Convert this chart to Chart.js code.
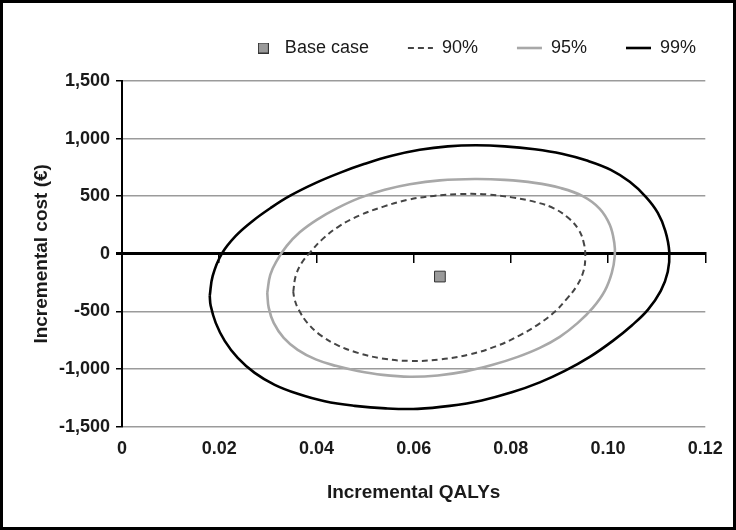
<!DOCTYPE html>
<html>
<head>
<meta charset="utf-8">
<script src="https://cdn.jsdelivr.net/npm/chart.js@4/dist/chart.umd.min.js"></script>
<style>
html,body{margin:0;padding:0;background:#fff;}
#wrap{width:736px;height:530px;position:relative;}
</style>
</head>
<body>
<div id="wrap"><canvas id="c"></canvas></div>
<script>
// ---- Data ----
const seriesNames = ['Base case', '90%', '95%', '99%'];

const xTickValues = [0, 0.02, 0.04, 0.06, 0.08, 0.10, 0.12];
const xTickLabels = ['0', '0.02', '0.04', '0.06', '0.08', '0.10', '0.12'];
const yTickValues = [-1500, -1000, -500, 0, 500, 1000, 1500];
const yTickLabels = ['-1,500', '-1,000', '-500', '0', '500', '1,000', '1,500'];

const baseCaseX = [0.0654];
const baseCaseY = [-197];

const ci90X = [0.03523, 0.03574, 0.03698, 0.03862, 0.04130, 0.04479, 0.04891, 0.05364, 0.05879, 0.06414, 0.06949, 0.07504, 0.08019, 0.08492, 0.08883, 0.09191, 0.09397, 0.09500, 0.09531, 0.09490, 0.09356, 0.09150, 0.08903, 0.08595, 0.08183, 0.07689, 0.07154, 0.06558, 0.05920, 0.05344, 0.04850, 0.04438, 0.04088, 0.03821, 0.03636, 0.03553, 0.03523];
const ci90Y = [-330, -191, -78, 9, 130, 243, 334, 408, 469, 503, 519, 516, 490, 451, 395, 308, 208, 95, -26, -156, -278, -391, -503, -603, -707, -803, -872, -916, -929, -907, -859, -794, -707, -603, -486, -399, -330];

const ci95X = [0.02988, 0.03050, 0.03183, 0.03389, 0.03656, 0.04006, 0.04418, 0.04891, 0.05405, 0.05920, 0.06537, 0.07257, 0.07874, 0.08492, 0.09006, 0.09479, 0.09829, 0.10035, 0.10128, 0.10138, 0.10076, 0.09932, 0.09685, 0.09377, 0.09006, 0.08595, 0.08142, 0.07628, 0.07072, 0.06496, 0.05920, 0.05364, 0.04850, 0.04397, 0.03986, 0.03615, 0.03327, 0.03121, 0.03019, 0.02988];
const ci95Y = [-339, -182, -61, 69, 187, 295, 395, 486, 556, 604, 638, 650, 642, 616, 573, 501, 391, 252, 95, -17, -165, -321, -469, -599, -720, -816, -894, -963, -1020, -1055, -1066, -1050, -1016, -972, -916, -833, -729, -599, -469, -339];

const ci99X = [0.01805, 0.01866, 0.02051, 0.02340, 0.02689, 0.03060, 0.03451, 0.03965, 0.04479, 0.04994, 0.05549, 0.06126, 0.06702, 0.07278, 0.07874, 0.08492, 0.09047, 0.09582, 0.10056, 0.10446, 0.10776, 0.11023, 0.11177, 0.11259, 0.11228, 0.11084, 0.10817, 0.10488, 0.10097, 0.09623, 0.09109, 0.08595, 0.08019, 0.07401, 0.06743, 0.06084, 0.05426, 0.04788, 0.04171, 0.03615, 0.03142, 0.02730, 0.02381, 0.02113, 0.01928, 0.01825, 0.01805];
const ci99Y = [-365, -191, 0, 156, 286, 399, 503, 612, 703, 781, 851, 903, 933, 942, 933, 907, 868, 807, 729, 625, 495, 356, 200, 17, -156, -321, -486, -621, -755, -894, -1016, -1115, -1202, -1272, -1319, -1345, -1341, -1319, -1280, -1215, -1137, -1033, -903, -755, -599, -451, -365];

const toPoints = (xs, ys) => xs.map((x, i) => ({x: x, y: ys[i]}));

// ---- Styles ----
const FONT = "'Liberation Sans', Arial, Helvetica, sans-serif";
const TEXT = '#1a1a1a';
Chart.defaults.font.family = FONT;
Chart.defaults.color = TEXT;

// small square used as legend symbol for the base case
const sq = document.createElement('canvas');
sq.width = 11; sq.height = 11;
(function(){
  const g = sq.getContext('2d');
  g.fillStyle = '#9a9a9a';
  g.fillRect(0.5, 0.5, 10, 10);
  g.strokeStyle = '#333';
  g.lineWidth = 1;
  g.strokeRect(0.5, 0.5, 10, 10);
})();

const framePlugin = {
  id: 'frame',
  beforeDraw(chart) {
    const c = chart.ctx;
    c.save();
    c.fillStyle = '#fff';
    c.fillRect(0, 0, chart.width, chart.height);
    c.restore();
  },
  afterDraw(chart) {
    const c = chart.ctx;
    c.save();
    c.strokeStyle = '#000';
    c.lineWidth = 3;
    c.strokeRect(1.5, 1.5, chart.width - 3, chart.height - 3);
    c.restore();
  }
};

const lineDs = (label, pts, color, width, dash) => ({
  type: 'scatter',
  label: label,
  data: pts,
  showLine: true,
  borderColor: color,
  backgroundColor: color,
  borderWidth: width,
  borderDash: dash,
  pointRadius: 0,
  pointHoverRadius: 0,
  tension: 0.4,
  fill: false
});

new Chart(document.getElementById('c'), {
  type: 'scatter',
  data: {
    datasets: [
      {
        label: seriesNames[0],
        data: toPoints(baseCaseX, baseCaseY),
        pointStyle: 'rect',
        pointRadius: 7.6,
        pointHoverRadius: 7.6,
        backgroundColor: '#9a9a9a',
        borderColor: '#333',
        borderWidth: 1
      },
      lineDs(seriesNames[1], toPoints(ci90X, ci90Y), '#454545', 2, [6, 4]),
      lineDs(seriesNames[2], toPoints(ci95X, ci95Y), '#a8a8a8', 2.6, []),
      lineDs(seriesNames[3], toPoints(ci99X, ci99Y), '#000000', 2.6, [])
    ]
  },
  options: {
    responsive: true,
    maintainAspectRatio: false,
    animation: false,
    devicePixelRatio: 1,
    layout: { padding: { left: 30, right: 1, top: 0, bottom: 26.2 } },
    plugins: {
      tooltip: { enabled: false },
      // empty spacer between the legend and the plot
      title: {
        display: true,
        text: '',
        weight: 500,
        font: { size: 10 },
        padding: { top: 1, bottom: 1 }
      },
      legend: {
        position: 'top',
        align: 'end',
        labels: {
          usePointStyle: true,
          pointStyleWidth: 25,
          padding: 39,
          color: TEXT,
          font: { size: 18, family: FONT },
          generateLabels: (chart) => chart.data.datasets.map((ds, i) => ({
            text: ds.label,
            datasetIndex: i,
            hidden: false,
            fontColor: TEXT,
            fillStyle: i === 0 ? '#9a9a9a' : ds.borderColor,
            strokeStyle: i === 0 ? '#333' : ds.borderColor,
            lineWidth: i === 0 ? 1 : ds.borderWidth,
            lineDash: ds.borderDash || [],
            pointStyle: i === 0 ? sq : 'line'
          }))
        }
      }
    },
    scales: {
      x: {
        type: 'linear',
        position: 'bottom',
        min: 0,
        max: 0.12,
        afterBuildTicks: (s) => { s.ticks = xTickValues.map(v => ({value: v})); },
        afterFit: (s) => { s.height = 77.1; s.paddingLeft = 0; s.paddingRight = 30.7; },
        grid: { display: false, drawTicks: false },
        border: { display: false },
        ticks: {
          padding: 11.5,
          color: TEXT,
          font: { size: 18, weight: 'bold', family: FONT },
          callback: (v, i) => xTickLabels[i]
        },
        title: {
          display: true,
          text: 'Incremental QALYs',
          color: TEXT,
          font: { size: 19, weight: 'bold', family: FONT },
          padding: { top: 20, bottom: 0 }
        }
      },
      xZero: {
        type: 'linear',
        axis: 'x',
        position: { y: 0 },
        min: 0,
        max: 0.12,
        afterBuildTicks: (s) => { s.ticks = xTickValues.map(v => ({value: v})); },
        grid: { drawOnChartArea: false, drawTicks: true, tickLength: 8, color: '#000', lineWidth: 1.5 },
        border: { display: true, color: '#000', width: 3 },
        ticks: { display: false }
      },
      y: {
        type: 'linear',
        position: 'left',
        min: -1500,
        max: 1500,
        afterBuildTicks: (s) => { s.ticks = yTickValues.map(v => ({value: v})); },
        afterFit: (s) => { s.width = 92; s.paddingTop = 81; },
        grid: {
          color: (ctx) => (ctx.tick && ctx.tick.value === 0) ? '#000' : '#9b9b9b',
          lineWidth: (ctx) => (ctx.tick && ctx.tick.value === 0) ? 3 : 1.5,
          tickColor: '#000',
          tickLength: 6,
          drawTicks: true
        },
        border: { display: true, color: '#000', width: 2 },
        ticks: {
          padding: 6,
          color: TEXT,
          font: { size: 18, weight: 'bold', family: FONT },
          callback: (v, i) => yTickLabels[i]
        },
        title: {
          display: true,
          text: 'Incremental cost (€)',
          color: TEXT,
          font: { size: 19, weight: 'bold', family: FONT },
          padding: { top: 0, bottom: 0 }
        }
      }
    }
  },
  plugins: [framePlugin]
});
</script>
</body>
</html>
